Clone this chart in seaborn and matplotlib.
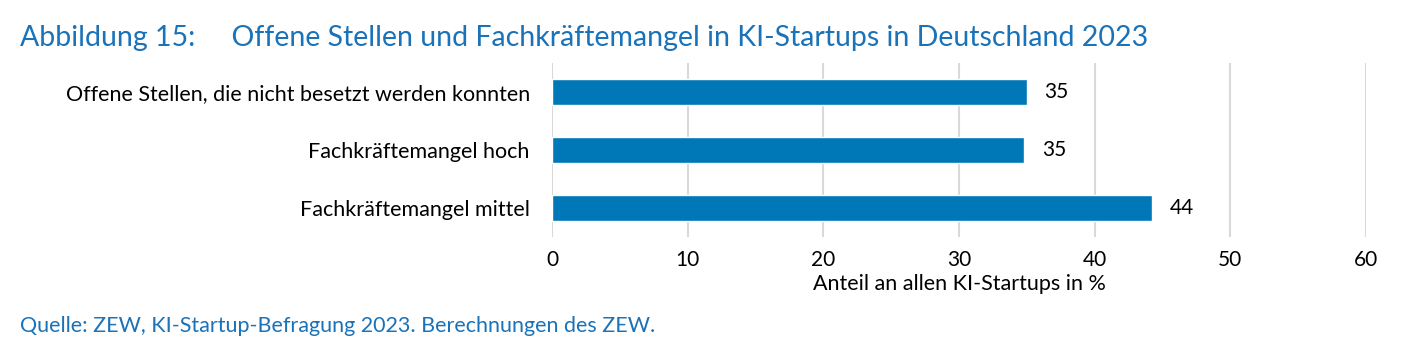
import matplotlib
matplotlib.use("Agg")
import matplotlib.pyplot as plt
import seaborn as sns
import pandas as pd

categories = ["Offene Stellen, die nicht besetzt werden konnten",
              "Fachkräftemangel hoch",
              "Fachkräftemangel mittel"]
values = [35.0, 34.8, 44.2]
value_labels = ["35", "35", "44"]
x_ticks = [0, 10, 20, 30, 40, 50, 60]

title_text = "Abbildung 15:     Offene Stellen und Fachkräftemangel in KI-Startups in Deutschland 2023"
source_text = "Quelle: ZEW, KI-Startup-Befragung 2023. Berechnungen des ZEW."
xlabel_text = "Anteil an allen KI-Startups in %"

sns.set_theme(style="white")
plt.rcParams['font.family'] = ["Lato", 'DejaVu Sans']

BLUE = "#0077b6"
TBLUE = "#1a72b8"

df = pd.DataFrame({"cat": categories, "val": values})

fig = plt.figure(figsize=(14.26, 3.51), dpi=100)
ax = fig.add_axes([552/1426, 1-237/351, (1366-552)/1426, (237-63)/351])
sns.barplot(data=df, x="val", y="cat", color=BLUE, width=0.45, ax=ax,
            saturation=1, orient="h")
ax.set_xlim(0, 60)
ax.set_ylim(2.5, -0.5)
ax.set_xticks(x_ticks)
ax.set_xticklabels([str(t) for t in x_ticks], fontsize=15, color="black")
ax.tick_params(axis="y", labelsize=15.5, colors="black", length=0, pad=16)
ax.tick_params(axis="x", length=0, pad=9)
ax.grid(axis="x", color="#d9d9d9", linewidth=1.5)
ax.set_axisbelow(True)
for s in ax.spines.values():
    s.set_visible(False)
ax.set_ylabel("")
ax.set_xlabel(xlabel_text, fontsize=15.5, color="black", labelpad=3)

for i, (v, lab) in enumerate(zip(values, value_labels)):
    ax.text(v + 1.3, i, lab, va="center", ha="left", fontsize=15, color="black")

fig.text(20/1426, 1-38/351, title_text, fontsize=20.5, color=TBLUE, va="center", ha="left")
fig.text(20/1426, 1-326/351, source_text, fontsize=15.5, color=TBLUE, va="center", ha="left")

fig.savefig("out.png", dpi=100)
